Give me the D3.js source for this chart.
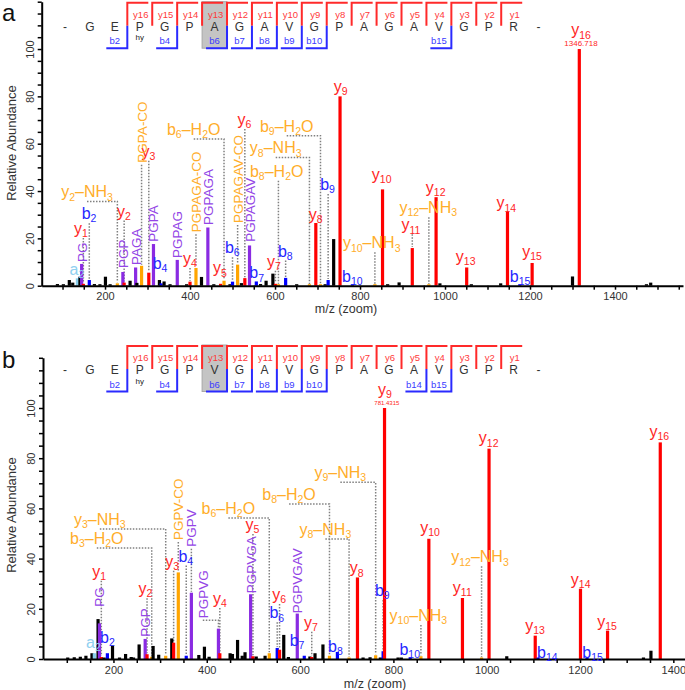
<!DOCTYPE html>
<html><head><meta charset="utf-8">
<script src="https://cdn.jsdelivr.net/npm/d3@7"></script>
<style>body{margin:0;background:#fff} text{font-family:"Liberation Sans",Arial,sans-serif}</style>
</head><body><svg id="c" width="685" height="690"></svg>
<script>
// ---------- data ----------
const seqA = "GEPGPAGAVGPAGAVGPR".split("");
const seqB = "GEPGPVGAVGPAGAVGPR".split("");
const yIons = d3.range(1, 17);
const bIonsA = [2,4,6,7,8,9,10,15];
const bIonsB = [2,4,6,7,8,9,10,14,15];
const xTickLabels = [200,400,600,800,1000,1200,1400];
const yTickLabels = [0,20,40,60,80,100];

// [m/z, relative abundance, ion class]
const peaksA = [[88,0.7,"k"],[102,0.5,"k"],[116,2.4,"k"],[124,1.3,"k"],[135,3.1,"c"],[141,3.8,"k"],[145,9.2,"p"],[149,0.8,"r"],[163,2.4,"b"],[175,0.7,"k"],[188,0.5,"k"],[201,3.8,"k"],[212,0.6,"k"],[229,1.0,"o"],[242,5.8,"p"],[245,1.3,"r"],[259,2.1,"k"],[272,7.7,"p"],[275,1.2,"k"],[286,8.4,"o"],[303,5.5,"r"],[314,17.6,"p"],[328,2.4,"k"],[332,1.0,"b"],[339,1.8,"k"],[353,0.5,"k"],[370,10.9,"p"],[392,0.5,"k"],[400,1.7,"r"],[414,7.5,"o"],[427,3.7,"k"],[442,24.6,"p"],[456,0.5,"k"],[472,0.8,"r"],[480,2.1,"o"],[494,0.5,"k"],[500,1.7,"b"],[512,8.9,"o"],[521,1.1,"k"],[529,3.2,"r"],[540,17,"p"],[556,1.8,"b"],[566,0.7,"k"],[579,2.1,"k"],[595,5.1,"k"],[601,0.8,"r"],[608,0.4,"o"],[625,3.3,"b"],[651,0.3,"k"],[681,0.3,"o"],[696,26.5,"r"],[707,0.4,"o"],[718,0.5,"k"],[725,2.4,"b"],[738,19.7,"k"],[753,80,"r"],[782,0.5,"b"],[835,0.4,"o"],[853,40.7,"r"],[865,0.3,"k"],[892,1.4,"k"],[923,15.9,"r"],[962,0.3,"o"],[979,37.4,"r"],[988,1.0,"k"],[1051,7.7,"r"],[1062,0.4,"k"],[1131,1.0,"k"],[1147,31.3,"r"],[1176,0.3,"b"],[1205,9.6,"r"],[1300,3.9,"k"],[1316,100,"r"],[1474,0.4,"k"],[1484,1.3,"k"]];

const peaksB = [[102,0.5,"k"],[116,0.7,"k"],[129,0.9,"k"],[141,1.3,"k"],[154,2.3,"k"],[159,2.3,"c"],[167,15.9,"k"],[170,14.2,"p"],[174,0.8,"r"],[180,0.5,"k"],[187,2.3,"b"],[198,5.3,"k"],[213,0.4,"k"],[226,2.0,"k"],[238,0.8,"k"],[243,0.5,"k"],[255,5.8,"k"],[268,8.0,"p"],[272,1.9,"r"],[282,0.9,"o"],[285,5.2,"k"],[297,1.7,"k"],[312,1.3,"o"],[325,8.2,"k"],[329,6.5,"r"],[339,34.5,"o"],[356,1.3,"b"],[367,26.4,"p"],[383,1.6,"k"],[395,4.9,"k"],[405,0.9,"k"],[425,12.1,"p"],[428,2.3,"r"],[450,2.3,"k"],[455,2.0,"k"],[466,7.6,"k"],[476,1.3,"k"],[482,2.7,"k"],[494,25.8,"p"],[499,1.1,"r"],[506,1.0,"k"],[525,1.3,"k"],[534,2.3,"o"],[551,4.4,"b"],[556,3.7,"r"],[565,9.6,"k"],[575,0.8,"k"],[594,18.1,"p"],[609,1.3,"b"],[621,1.0,"k"],[625,0.8,"r"],[632,2.3,"k"],[649,5.8,"k"],[663,1.3,"o"],[680,2.8,"b"],[705,0.5,"o"],[723,32.5,"r"],[735,0.3,"k"],[750,0.7,"k"],[762,1.5,"o"],[772,0.6,"k"],[778,3.1,"b"],[781,100,"r"],[810,0.5,"k"],[817,0.5,"k"],[836,0.7,"b"],[859,1.1,"o"],[876,47.9,"r"],[948,24.3,"r"],[989,0.3,"o"],[1005,83.8,"r"],[1043,1.1,"k"],[1104,9.3,"r"],[1110,0.3,"b"],[1201,28,"r"],[1215,0.3,"b"],[1259,11.3,"r"],[1336,0.5,"k"],[1352,3.3,"k"],[1372,86.3,"r"]];

// annotations: [text, class, label m/z, label abundance, peak m/z, peak abundance, connector]
const labelsA = [["a{2}","c",134,4.5,135,3.1,"n"],["y{1}","r",143.5,21.8,149,0.8,"v"],["b{2}","b",162.4,28.1,163,2.4,"v"],["y{2}","r",244.7,29.2,245,1.3,"v"],["y{2}–NH{3}","o",157.6,37.3,229,1.0,"h"],["y{3}","r",301.9,54.5,303,5.5,"v"],["b{4}","b",329.4,7.1,332,1.0,"n"],["y{4}","r",400,9.2,400,1.7,"v"],["b{6}–H{2}O","o",408.7,63.7,480,2.1,"h"],["y{5}","r",470.6,5.2,472,0.8,"n"],["b{6}","b",499.5,13.7,500,1.7,"v"],["y{6}","r",527.8,67.9,529,3.2,"v"],["b{7}","b",557,3.1,556,1.8,"n"],["y{7}","r",597.6,8,601,0.8,"v"],["b{8}","b",624.2,12.3,625,3.3,"v"],["b{8}–H{2}O","o",604,46,608,0.4,"v"],["y{8}–NH{3}","o",601.6,55.9,681,0.3,"h"],["b{9}–H{2}O","o",627.5,65.1,707,0.4,"h"],["y{8}","r",695.8,27.8,696,26.5,"n"],["b{9}","b",723.5,40.4,725,2.4,"v"],["y{9}","r",754.6,82,753,80,"n"],["b{10}","b",781.9,1.7,782,0.5,"n"],["y{10}–NH{3}","o",827.5,15.8,835,0.4,"v"],["y{10}","r",851,44.7,853,40.7,"n"],["y{11}","r",920,23.4,923,15.9,"v"],["y{12}–NH{3}","o",960.7,30.6,962,0.3,"v"],["y{12}","r",978,39.3,979,37.4,"n"],["y{13}","r",1048.7,10.1,1051,7.7,"n"],["y{14}","r",1144.2,32.7,1147,31.3,"n"],["b{15}","b",1176.5,1.7,1176,0.3,"n"],["y{15}","r",1204.7,12.3,1205,9.6,"n"],["y{16}","r",1320,105.8,1316,100,"n"]];
const rotA = [["PG","p",145,10,145,9.2,"n"],["PGP","p",242,7.5,242,5.8,"n"],["PAGA","p",272,8.7,272,7.7,"n"],["PGPA-CO","o",286,52,286,8.4,"v"],["PGPA","p",314,18.6,314,17.6,"n"],["PGPAG","p",370,11.7,370,10.9,"n"],["PGPAGA-CO","o",414,22.6,414,7.5,"v"],["PGPAGA","p",442,25.6,442,24.6,"n"],["PGPAGAV-CO","o",512,26.5,512,8.9,"v"],["PGPAGAV","p",540,18.6,540,17,"n"]];
const massA = ["1346.718",1320,101.1];

const labelsB = [["a{2}","c",157,4.3,159,2.3,"n"],["y{1}","r",169.3,32.8,174,0.8,"v"],["b{2}","b",187,6.5,187,2.3,"n"],["y{2}","r",268.5,25.8,272,1.9,"v"],["y{3}–NH{3}","o",170.8,53.4,312,1.3,"h"],["b{3}–H{2}O","o",164.3,45.8,282,0.9,"h"],["y{3}","r",325.7,36.8,329,6.5,"v"],["b{4}","b",355,38.8,356,1.3,"v"],["y{4}","r",428,21.9,428,2.3,"v"],["b{6}–H{2}O","o",446.3,57.8,534,2.3,"h"],["y{5}","r",497.8,51.4,499,1.1,"v"],["y{6}","r",555,23.5,556,3.7,"v"],["b{6}","b",550,16.2,551,4.4,"v"],["y{7}","r",623.5,12.5,625,0.8,"v"],["b{7}","b",593.5,5.2,609,1.3,"n"],["b{8}–H{2}O","o",576.4,63.3,663,1.3,"h"],["y{8}–NH{3}","o",654.2,49.4,705,0.5,"h"],["b{8}","b",675.6,2.9,680,2.8,"n"],["y{9}–NH{3}","o",686.3,72,762,1.5,"h"],["y{8}","r",721.5,34.1,723,32.5,"n"],["b{9}","b",776.3,25.1,778,3.1,"v"],["y{9}","r",782,105.2,781,100,"n"],["b{10}","b",835,1.6,836,0.7,"n"],["y{10}–NH{3}","o",853.5,15.1,859,1.1,"v"],["y{10}","r",878.5,50.1,876,47.9,"n"],["y{11}","r",947.7,26.2,948,24.3,"n"],["y{12}–NH{3}","o",985.6,38.5,989,0.3,"v"],["y{12}","r",1004.3,85.9,1005,83.8,"n"],["y{13}","r",1103.5,11.2,1104,9.3,"n"],["b{14}","b",1130,0.3,1110,0.3,"n"],["y{14}","r",1201.4,29.5,1201,28,"n"],["b{15}","b",1227,0.3,1215,0.3,"n"],["y{15}","r",1257.8,12.9,1259,11.3,"n"],["y{16}","r",1369.8,88.6,1372,86.3,"n"]];
const rotB = [["PG","p",170,20.8,170,14.2,"n"],["PGP","p",268,8.9,268,8.0,"n"],["PGPV-CO","o",339,47.4,339,34.5,"v"],["PGPV","p",367,44.7,367,26.4,"v"],["PGPVG","p",391.5,16.2,425,12.1,"h"],["PGPVGA","p",494,26.2,494,25.8,"n"],["PGPVGAV","p",594,18.2,594,18.1,"n"]];
const massB = ["781.4315",786,101.2];

// ---------- styles ----------
const barCol = {k:"#000000", r:"#ff0000", b:"#0000ff", o:"#ffa500", p:"#8a2be2", c:"#87ceeb"};
const txtCol = {k:"#000000", r:"#ff2626", b:"#2626ff", o:"#ffad2a", p:"#9446e6", c:"#8fd0f0"};
const svg = d3.select("#c");

function rich(t, str, fs, sub) {
  const parts = str.split(/(\{[^}]*\})/).filter(s => s.length);
  let down = false;
  parts.forEach(p => {
    if (p[0] === "{") {
      t.append("tspan").attr("font-size", sub).attr("dy", down ? 0 : fs * 0.2).text(p.slice(1, -1));
      down = true;
    } else {
      t.append("tspan").attr("font-size", fs).attr("dy", down ? -fs * 0.2 : 0).text(p);
      down = false;
    }
  });
}

function panel(o) {
  const g = svg.append("g");
  const x = d3.scaleLinear().domain(o.xDom).range(o.xRng);
  const y = d3.scaleLinear().domain([0, 120]).range(o.yRng);
  const dot = sel => sel.attr("fill", "none").attr("stroke", "#808080").attr("stroke-width", 1.5).attr("stroke-dasharray", "1.5,1.5");

  // connectors
  const cg = g.append("g");
  o.labels.forEach(d => {
    const [t, c, lx, ly, px, py, k] = d;
    if (k === "v") {
      const y0 = y(ly) + 4, y1 = y(py) - 1;
      if (y1 - y0 > 1) cg.append("path").attr("d", `M${x(px)},${y0}V${y1}`).call(dot);
    } else if (k === "h") {
      const yy = y(ly) + 4;
      cg.append("path").attr("d", `M${x(lx)},${yy}H${x(px)}V${y(py) - 1}`).call(dot);
    }
  });
  o.rot.forEach(d => {
    const [t, c, lx, ly, px, py, k] = d;
    if (k === "v") cg.append("path").attr("d", `M${x(px)},${y(ly) + 2}V${y(py) - 1}`).call(dot);
    else if (k === "h") cg.append("path").attr("d", `M${x(lx)},${y(ly) + 2}H${x(px)}V${y(py) - 1}`).call(dot);
  });

  // bars
  g.append("g").selectAll("rect").data(o.peaks).join("rect")
    .attr("x", d => x(d[0]) - 1.6).attr("width", 3.2)
    .attr("y", d => Math.min(y(d[1]), y(0) - 1.5))
    .attr("height", d => Math.max(y(0) - y(d[1]), 1.5))
    .attr("fill", d => barCol[d[2]]);

  // axes
  const xa = g.append("g").attr("transform", `translate(0,${y(0)})`)
    .call(d3.axisBottom(x).tickValues(d3.range(100, o.xDom[1] + 1, 50))
      .tickFormat(d => xTickLabels.includes(d) ? d : "").tickSize(4).tickSizeOuter(0));
  const ya = g.append("g").attr("transform", `translate(${o.xRng[0]},0)`)
    .call(d3.axisLeft(y).tickValues(d3.range(0, 121, 5))
      .tickFormat(d => yTickLabels.includes(d) ? d : "").tickSize(4).tickSizeOuter(0));
  [xa, ya].forEach(a => {
    a.select(".domain").attr("stroke", "#000").attr("stroke-width", 2);
    a.selectAll(".tick line").attr("stroke", "#000").attr("stroke-width", 1.5);
    a.selectAll(".tick text").attr("fill", "#333").attr("font-size", 11)
      .attr("font-family", '"Liberation Sans",Arial,sans-serif');
  });
  xa.selectAll(".tick text").attr("y", 7);
  ya.selectAll(".tick text").attr("transform", "rotate(-90)").attr("x", 0).attr("y", -8)
    .attr("dy", 0).attr("text-anchor", "middle");

  g.append("text").attr("x", o.xTitle[0]).attr("y", o.xTitle[1]).attr("text-anchor", "middle")
    .attr("font-size", 12.5).attr("fill", "#333").text("m/z (zoom)");
  g.append("text").attr("transform", `translate(16,${o.yTitleY}) rotate(-90)`).attr("text-anchor", "middle")
    .attr("font-size", 13).attr("fill", "#333").text("Relative Abundance");

  // horizontal labels
  o.labels.forEach(d => {
    const [t, c, lx, ly] = d;
    const tx = g.append("text").attr("x", x(lx)).attr("y", y(ly)).attr("text-anchor", "middle")
      .attr("fill", txtCol[c]);
    rich(tx, t, 16, 10.5);
  });
  // rotated labels
  o.rot.forEach(d => {
    const [t, c, lx, ly] = d;
    g.append("text").attr("transform", `translate(${x(lx) + 5},${y(ly)}) rotate(-90)`)
      .attr("font-size", 13.5).attr("fill", txtCol[c]).text(t);
  });
  g.append("text").attr("x", x(o.mass[1])).attr("y", y(o.mass[2])).attr("text-anchor", "middle")
    .attr("font-size", o.massSize).attr("fill", txtCol.r).text(o.mass[0]);

  // panel letter
  g.append("text").attr("x", 2).attr("y", o.letterY).attr("font-size", 24).attr("fill", "#111").text(o.letter);

  // ladder
  const lx = d3.scaleLinear().domain([0, 19]).range([65, 538.6]);
  const T = o.ladTop;
  const L = g.append("g");
  L.append("rect").attr("x", lx(o.hl - 0.5)).attr("width", lx(1) - lx(0)).attr("y", T - 1).attr("height", 46.5)
    .attr("fill", "#c4c4c4").attr("stroke", "#a8a8a8");
  const chars = ["-"].concat(o.seq, ["-"]);
  L.selectAll("text.aa").data(chars).join("text").attr("class", "aa")
    .attr("x", (d, i) => lx(i)).attr("y", T + 28).attr("text-anchor", "middle")
    .attr("font-size", 12).attr("fill", "#333").text(d => d);
  L.append("text").attr("x", lx(3)).attr("y", T + 37.5).attr("text-anchor", "middle")
    .attr("font-size", 8).attr("fill", "#222").text("hy");
  yIons.forEach(n => {
    const r = 19 - n, xb = lx(r - 0.5);
    L.append("path").attr("d", `M${xb},${T + 23}V${T}H${xb + 21}`).attr("fill", "none")
      .attr("stroke", "#ff2a2a").attr("stroke-width", 2);
    L.append("text").attr("x", lx(r) + 1).attr("y", T + 15).attr("text-anchor", "middle")
      .attr("font-size", 9.5).attr("fill", "#ff3a3a").text("y" + n);
  });
  o.bIons.forEach(n => {
    const xb = lx(n + 0.5);
    L.append("path").attr("d", `M${xb},${T + 23}V${T + 45.5}H${xb - 21}`).attr("fill", "none")
      .attr("stroke", "#2a2aff").attr("stroke-width", 2);
    L.append("text").attr("x", lx(n)).attr("y", T + 41.5).attr("text-anchor", "middle")
      .attr("font-size", 9.5).attr("fill", "#3a3aff").text("b" + n);
  });
}

panel({seq: seqA, bIons: bIonsA, hl: 6, ladTop: 2.7, letter: "a", letterY: 21,
  peaks: peaksA, labels: labelsA, rot: rotA, mass: massA, massSize: 8,
  xDom: [51, 1560], xRng: [41.7, 683], yRng: [285.7, 1.7],
  xTitle: [346, 313], yTitleY: 143});
panel({seq: seqB, bIons: bIonsB, hl: 6, ladTop: 346, letter: "b", letterY: 368,
  peaks: peaksB, labels: labelsB, rot: rotB, mass: massB, massSize: 6,
  xDom: [49, 1425], xRng: [43, 685], yRng: [659, 357.8],
  xTitle: [375, 688], yTitleY: 515});
</script></body></html>
